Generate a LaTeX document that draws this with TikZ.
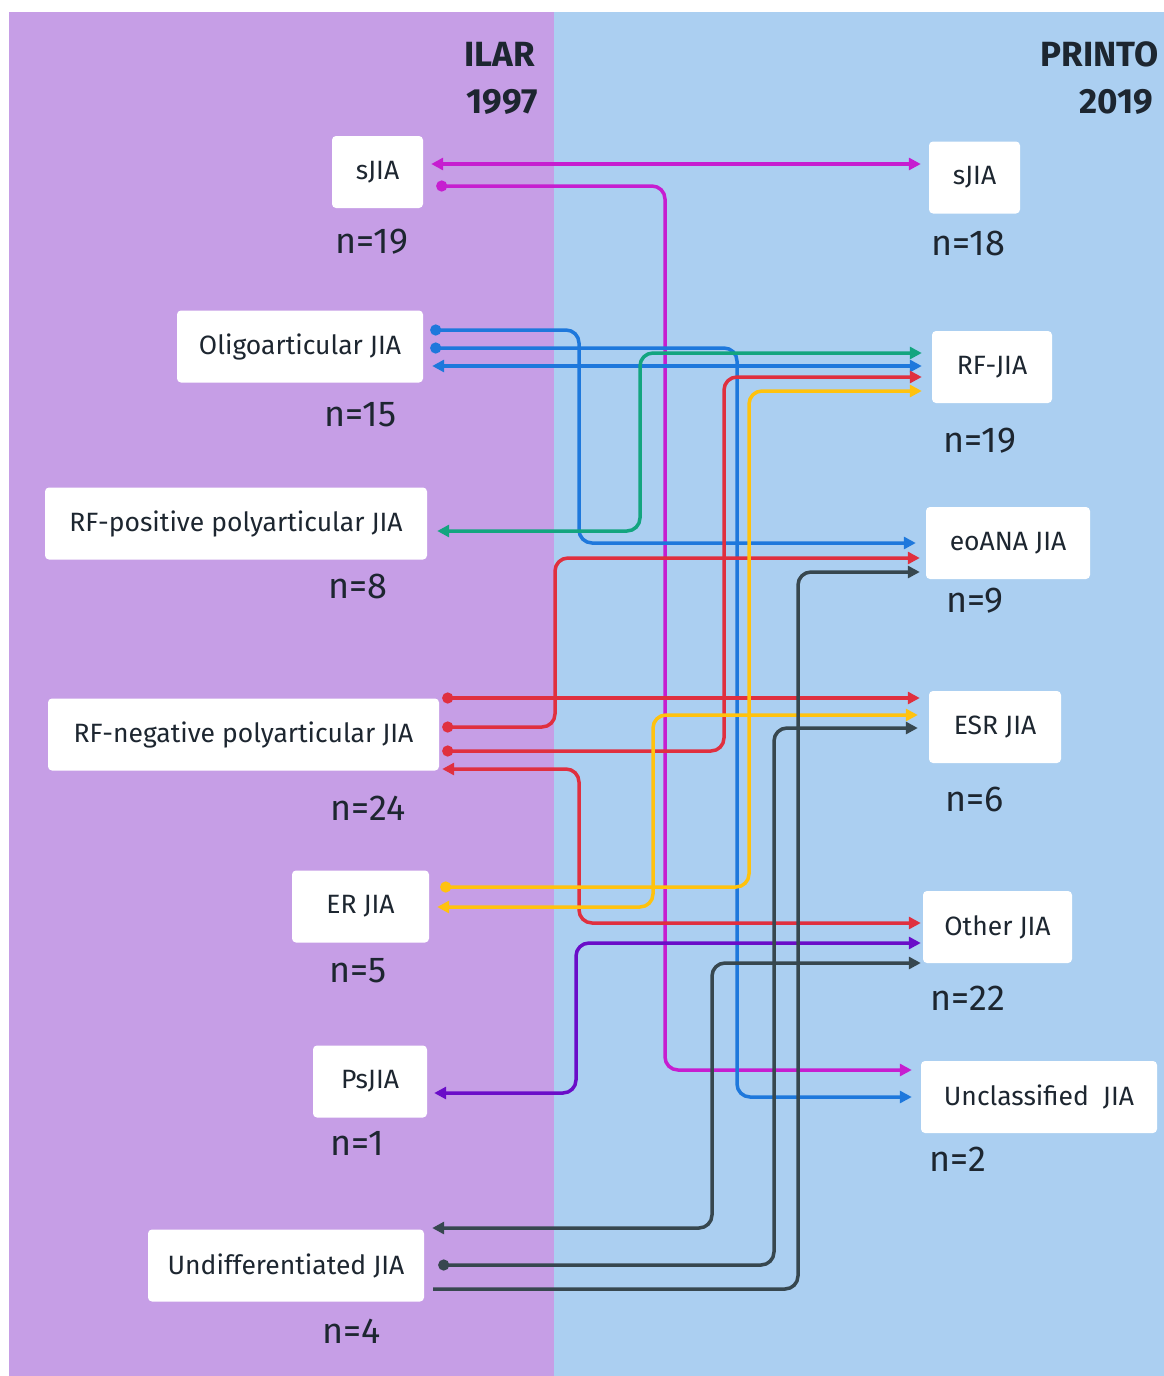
\documentclass[tikz,border=0pt]{standalone}
\usepackage{fontspec}
\setmainfont{Fira Sans}
\usetikzlibrary{arrows.meta,calc}
\definecolor{panelL}{HTML}{C69EE6}
\definecolor{panelR}{HTML}{ABCFF1}
\definecolor{txt}{HTML}{1D2630}
\definecolor{cMag}{HTML}{C61ED0}
\definecolor{cBlue}{HTML}{1E78DC}
\definecolor{cGreen}{HTML}{13A57F}
\definecolor{cRed}{HTML}{E0303F}
\definecolor{cYel}{HTML}{FFC20E}
\definecolor{cPur}{HTML}{6A0DC8}
\definecolor{cGray}{HTML}{37474F}
\tikzset{
  tR/.tip={Triangle[length=12pt,width=12pt]},
  tD/.tip={Circle[length=11pt]},
  box/.style={fill=white, rounded corners=4pt, minimum height=72pt, inner sep=0pt,
    text=txt, font=\fontsize{26.5}{32}\selectfont},
  nlab/.style={text=txt, inner sep=0pt, font=\fontsize{36}{42}\selectfont},
  ttl/.style={text=txt, inner sep=0pt, anchor=east, font=\fontsize{35}{40}\selectfont\bfseries},
  conn/.style={line width=3.5pt, rounded corners=13pt},
}
\begin{document}
\begin{tikzpicture}[x=1pt,y=-1pt]
\useasboundingbox (0,0) rectangle (1164,1376);
\fill[white] (0,0) rectangle (1164,1376);
\fill[panelL] (9,12) rectangle (554,1376);
\fill[panelR] (554,12) rectangle (1164,1376);
% titles
\node[ttl] (t1) at (535,54) {ILAR};
\node[ttl] (t2) at (538,102) {1997};
\node[ttl] (t3) at (1159,54) {PRINTO};
\node[ttl] (t4) at (1153,102) {2019};
% left boxes
\node[box, minimum width=91pt]  (lsjia) at (377.5,172) {sJIA};
\node[box, minimum width=246pt] (lolig) at (300,346.5) {Oligoarticular JIA};
\node[box, minimum width=382pt] (lrfp)  at (236,523.5) {RF-positive polyarticular JIA};
\node[box, minimum width=391pt] (lrfn)  at (243.5,734.5) {RF-negative polyarticular JIA};
\node[box, minimum width=137pt] (ler)   at (360.5,906.5) {ER JIA};
\node[box, minimum width=114pt] (lps)   at (370,1081.5) {PsJIA};
\node[box, minimum width=276pt] (lund)  at (286,1265.5) {Undifferentiated JIA};
% right boxes
\node[box, minimum width=91pt]  (rsjia) at (974.5,177.5) {sJIA};
\node[box, minimum width=120pt] (rrf)   at (992,367) {RF-JIA};
\node[box, minimum width=164pt] (reo)   at (1008,543) {eoANA JIA};
\node[box, minimum width=132pt] (resr)  at (995,727) {ESR JIA};
\node[box, minimum width=149pt] (roth)  at (997.5,927) {Other JIA};
\node[box, minimum width=236pt] (runc)  at (1039,1097) {Unclassified\ \ JIA};
% n labels
\node[nlab] (n1) at (372,242) {n=19};
\node[nlab] (n2) at (360,415) {n=15};
\node[nlab] (n3) at (358,586) {n=8};
\node[nlab] (n4) at (368,808) {n=24};
\node[nlab] (n5) at (358,971) {n=5};
\node[nlab] (n6) at (357,1143) {n=1};
\node[nlab] (n7) at (352,1331) {n=4};
\node[nlab] (m1) at (968,243) {n=18};
\node[nlab] (m2) at (980,441) {n=19};
\node[nlab] (m3) at (975,601) {n=9};
\node[nlab] (m4) at (975,799) {n=6};
\node[nlab] (m5) at (968,998) {n=22};
\node[nlab] (m6) at (958,1159) {n=2};
% connectors
% sJIA
\draw[conn, cMag, tR-tR] ($(lsjia.east|-0,164)+(8,0)$) -- ($(rsjia.west|-0,164)+(-8,0)$);
\draw[conn, cMag, tD-tR] ($(lsjia.east|-0,186)+(13,0)$) -- (665,186) -- (665,1070) -- ($(runc.west|-0,1070)+(-9,0)$);
% Oligo
\draw[conn, cBlue, tD-tR] ($(lolig.east|-0,330)+(7,0)$) -- (579,330) -- (579,543) -- ($(reo.west|-0,543)+(-10,0)$);
\draw[conn, cBlue, tD-tR] ($(lolig.east|-0,348)+(7,0)$) -- (737,348) -- (737,1097) -- ($(runc.west|-0,1097)+(-9,0)$);
\draw[conn, cBlue, tR-tR] ($(lolig.east|-0,366)+(9,0)$) -- ($(rrf.west|-0,366)+(-10,0)$);
% RF-positive
\draw[conn, cGreen, tR-tR] ($(lrfp.east|-0,531)+(10,0)$) -- (640,531) -- (640,353) -- ($(rrf.west|-0,353)+(-10,0)$);
% RF-negative
\draw[conn, cRed, tD-tR] ($(lrfn.east|-0,698)+(3,0)$) -- ($(resr.west|-0,698)+(-9,0)$);
\draw[conn, cRed, tD-tR] ($(lrfn.east|-0,727)+(3,0)$) -- (555,727) -- (555,558) -- ($(reo.west|-0,558)+(-6,0)$);
\draw[conn, cRed, tD-tR] ($(lrfn.east|-0,751)+(3,0)$) -- (724,751) -- (724,377) -- ($(rrf.west|-0,377)+(-10,0)$);
\draw[conn, cRed, tR-tR] ($(lrfn.east|-0,769)+(3,0)$) -- (579,769) -- (579,923) -- ($(roth.west|-0,923)+(-2,0)$);
% ER
\draw[conn, cYel, tD-tR] ($(ler.east|-0,887)+(11,0)$) -- (749,887) -- (749,391) -- ($(rrf.west|-0,391)+(-10,0)$);
\draw[conn, cYel, tR-tR] ($(ler.east|-0,907)+(8,0)$) -- (653,907) -- (653,715) -- ($(resr.west|-0,715)+(-11,0)$);
% PsJIA
\draw[conn, cPur, tR-tR] ($(lps.east|-0,1093)+(7,0)$) -- (576,1093) -- (576,943) -- ($(roth.west|-0,943)+(-2,0)$);
% Undifferentiated
\draw[conn, cGray, tR-tR] ($(lund.east|-0,1228)+(8,0)$) -- (712,1228) -- (712,963) -- ($(roth.west|-0,963)+(-2,0)$);
\draw[conn, cGray, tD-tR] ($(lund.east|-0,1265)+(14,0)$) -- (774,1265) -- (774,728) -- ($(resr.west|-0,728)+(-11,0)$);
\draw[conn, cGray, -tR] ($(lund.east|-0,1289)+(9,0)$) -- (798,1289) -- (798,572) -- ($(reo.west|-0,572)+(-6,0)$);
\end{tikzpicture}
\end{document}
